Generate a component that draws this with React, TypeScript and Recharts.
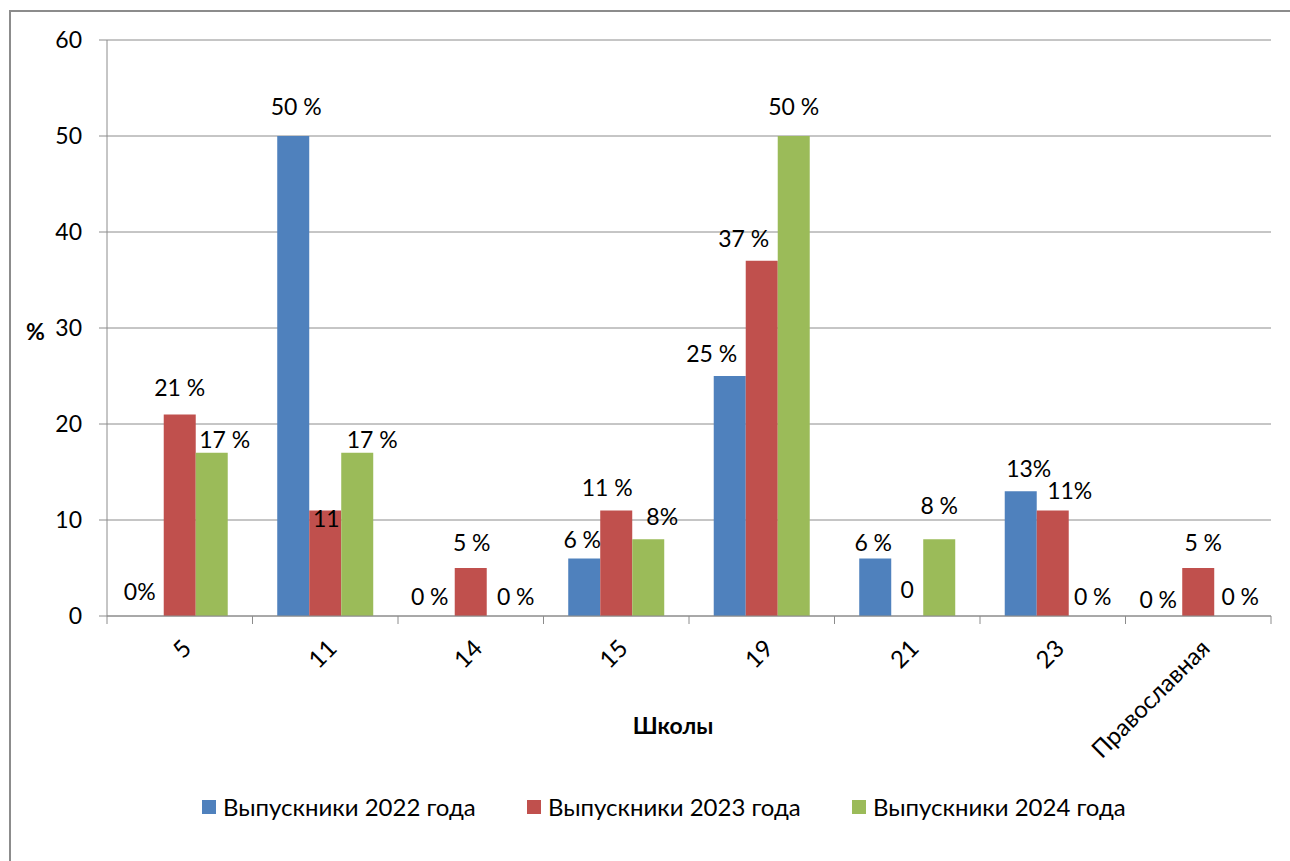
import React from 'react';
import { Bar, BarChart, CartesianGrid, LabelList, XAxis, YAxis } from 'recharts';

const schools = ['5', '11', '14', '15', '19', '21', '23', 'Православная'];
const grads2022 = [0, 50, 0, 6, 25, 6, 13, 0];
const grads2023 = [21, 11, 5, 11, 37, 0, 11, 5];
const grads2024 = [17, 17, 0, 8, 50, 8, 0, 0];
const labels2022 = ['0%', '50 %', '0 %', '6 %', '25 %', '6 %', '13%', '0 %'];
const labels2023 = ['21 %', '11', '5 %', '11 %', '37 %', '0', '11%', '5 %'];
const labels2024 = ['17 %', '17 %', '0 %', '8%', '50 %', '8 %', '0 %', '0 %'];
const yTicks = [0, 10, 20, 30, 40, 50, 60];

const series = [
  { key: 'y2022', label: 'l2022', name: 'Выпускники 2022 года', color: '#4F81BD' },
  { key: 'y2023', label: 'l2023', name: 'Выпускники 2023 года', color: '#C0504D' },
  { key: 'y2024', label: 'l2024', name: 'Выпускники 2024 года', color: '#9BBB59' },
];

// Excel nudged some labels off-centre; [dx, dy] per series per school.
const nudges: Record<string, [number, number][]> = {
  l2022: [[-8, -1], [3, -6], [-9, 4], [-2, 5], [-18, 1], [-2, 8], [8, 1], [-8, 7]],
  l2023: [[0, -3], [1, 32], [1, -2], [-9, 1], [-18, 1], [0, -3], [17, 4], [5, -2]],
  l2024: [[13, 10], [15, 10], [13, 4], [14, 1], [0, -6], [0, -10], [8, 4], [10, 4]],
};

const data = schools.map((s, i) => ({
  school: s,
  y2022: grads2022[i],
  y2023: grads2023[i],
  y2024: grads2024[i],
  l2022: labels2022[i],
  l2023: labels2023[i],
  l2024: labels2024[i],
}));

const FONT = 'Lato, "Noto Sans", sans-serif';
const FS = 23;
const AXIS = '#8c8c8c';
const W = 1290;
const H = 861;
const M = { top: 40, right: 19, bottom: 0, left: 0 };
const Y_W = 107;
const PLOT_W = W - M.left - M.right - Y_W;
const BAND = PLOT_W / schools.length;

function SchoolTick(props: any) {
  const { x, y, payload, index } = props;
  const ax = x + 13;
  const ay = y + 34;
  return (
    <g>
      <line x1={x - BAND / 2} x2={x - BAND / 2} y1={y} y2={y + 8} stroke={AXIS} />
      {index === schools.length - 1 && (
        <line x1={x + BAND / 2} x2={x + BAND / 2} y1={y} y2={y + 8} stroke={AXIS} />
      )}
      <text
        x={ax}
        y={ay}
        textAnchor="end"
        fontSize={24}
        fontFamily={FONT}
        fill="#000"
        transform={`rotate(-45, ${ax}, ${ay})`}
      >
        {payload.value}
      </text>
    </g>
  );
}

function makeLabel(labelKey: string) {
  return (props: any) => {
    const { x, y, width, value, index } = props;
    const [dx, dy] = nudges[labelKey][index] || [0, 0];
    return (
      <text
        x={x + width / 2 + dx}
        y={y - 15 + dy}
        textAnchor="middle"
        fontSize={FS}
        fontFamily={FONT}
        fill="#000"
      >
        {value}
      </text>
    );
  };
}

export default function App() {
  return (
    <div style={{ position: 'absolute', left: 0, top: 0, width: W, height: H, overflow: 'hidden', background: '#fff', fontFamily: FONT }}>
      <div style={{ position: 'absolute', left: 9, top: 10, width: W + 20, height: H + 20, border: '2px solid #8c8c8c' }} />
      <div style={{ position: 'absolute', left: 0, top: 0 }}>
        <BarChart width={W} height={H} data={data} margin={M} barCategoryGap="17%" barGap={0}>
          <CartesianGrid vertical={false} stroke={AXIS} strokeWidth={1} />
          <XAxis
            dataKey="school"
            height={H - M.top - 576}
            interval={0}
            tickLine={false}
            tickSize={0}
            tickMargin={0}
            axisLine={{ stroke: AXIS }}
            tick={<SchoolTick />}
            label={{
              content: () => (
                <text x={673} y={734} textAnchor="middle" fontSize={FS} fontWeight="bold" fontFamily={FONT} fill="#000">
                  Школы
                </text>
              ),
            }}
          />
          <YAxis
            width={Y_W}
            domain={[0, 60]}
            ticks={yTicks}
            interval={0}
            tickSize={8}
            tickMargin={17}
            tickLine={{ stroke: AXIS }}
            axisLine={{ stroke: AXIS }}
            tick={{ fontSize: FS, fontFamily: FONT, fill: '#000' }}
            label={{
              content: () => (
                <text x={26} y={340} fontSize={FS} fontWeight="bold" fontFamily={FONT} fill="#000">
                  %
                </text>
              ),
            }}
          />
          {series.map((s) => (
            <Bar key={s.key} dataKey={s.key} name={s.name} fill={s.color} minPointSize={0.01} isAnimationActive={false}>
              <LabelList dataKey={s.label} content={makeLabel(s.label)} />
            </Bar>
          ))}
        </BarChart>
      </div>
      <div style={{ position: 'absolute', left: 202, top: 794, display: 'flex', alignItems: 'center', fontSize: 24, color: '#000' }}>
        {series.map((s) => (
          <div key={s.key} style={{ display: 'flex', alignItems: 'center', width: 325 }}>
            <span style={{ display: 'inline-block', width: 14, height: 14, background: s.color, marginRight: 7, flexShrink: 0 }} />
            <span style={{ lineHeight: '26px', whiteSpace: 'nowrap' }}>{s.name}</span>
          </div>
        ))}
      </div>
    </div>
  );
}
